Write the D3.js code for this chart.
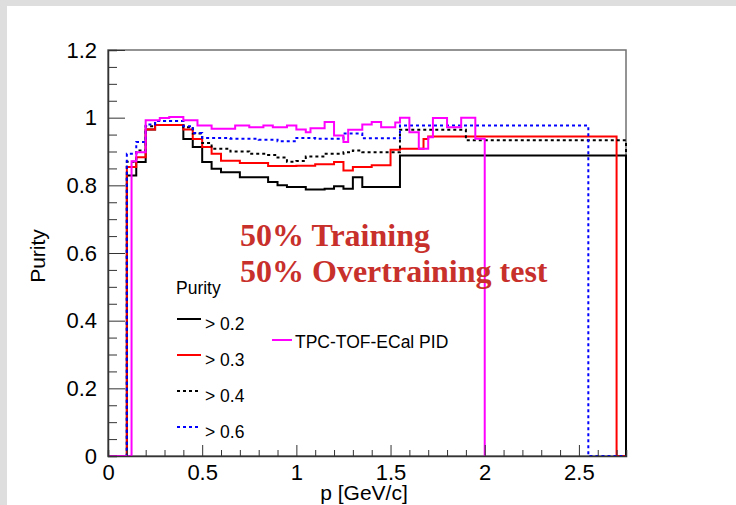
<!DOCTYPE html>
<html>
<head>
<meta charset="utf-8">
<script src="https://cdn.jsdelivr.net/npm/d3@7"></script>
<style>
  html, body { margin: 0; padding: 0; background: #fff; }
  svg { display: block; }
</style>
</head>
<body>
<svg id="chart" width="736" height="505"></svg>
<script>
// ---------------- DATA ----------------
const xTicks = [0, 0.5, 1, 1.5, 2, 2.5];
const yTicks = [0, 0.2, 0.4, 0.6, 0.8, 1, 1.2];
const xDomain = [0, 2.75];
const yDomain = [0, 1.2];

// Step histograms: bin edges (p, GeV/c) and purity value of each bin
const cut02Edges  = [0, 0.1, 0.15, 0.2, 0.25, 0.4, 0.45, 0.5, 0.55, 0.6, 0.7, 0.85, 0.9, 0.95, 1.05, 1.15, 1.2, 1.25, 1.3, 1.35, 1.55, 2.75];
const cut02Values = [0, 0.829, 0.869, 0.965, 0.978, 0.937, 0.913, 0.869, 0.849, 0.839, 0.824, 0.81, 0.80, 0.795, 0.788, 0.79, 0.797, 0.79, 0.824, 0.795, 0.888];

const cut03Edges  = [0, 0.1, 0.15, 0.2, 0.25, 0.4, 0.45, 0.5, 0.55, 0.6, 0.7, 0.85, 1.0, 1.1, 1.2, 1.25, 1.3, 1.4, 1.5, 1.55, 1.675, 1.7, 2.7, 2.75];
const cut03Values = [0, 0.854, 0.883, 0.965, 0.978, 0.965, 0.937, 0.913, 0.893, 0.873, 0.866, 0.857, 0.858, 0.862, 0.869, 0.844, 0.854, 0.859, 0.905, 0.908, 0.937, 0.944, 0];

const cut04Edges  = [0, 0.1, 0.15, 0.2, 0.25, 0.4, 0.45, 0.5, 0.55, 0.65, 0.75, 0.85, 0.9, 0.95, 1.0, 1.05, 1.15, 1.25, 1.3, 1.35, 1.55, 1.9, 2.75];
const cut04Values = [0, 0.87, 0.903, 0.975, 0.99, 0.972, 0.953, 0.925, 0.908, 0.9, 0.893, 0.89, 0.882, 0.87, 0.872, 0.885, 0.893, 0.898, 0.903, 0.898, 0.964, 0.933];

const cut06Edges  = [0, 0.1, 0.15, 0.2, 0.25, 0.4, 0.45, 0.5, 0.65, 0.8, 0.9, 1.0, 1.1, 1.25, 1.35, 1.55, 2.55, 2.75];
const cut06Values = [0, 0.893, 0.928, 0.98, 0.99, 0.975, 0.955, 0.94, 0.938, 0.935, 0.93, 0.94, 0.938, 0.953, 0.939, 0.977, 0];

const pidEdges  = [0, 0.125, 0.15, 0.2, 0.275, 0.325, 0.4, 0.475, 0.55, 0.675, 0.75, 0.825, 0.875, 0.95, 1.0, 1.05, 1.075, 1.15, 1.2, 1.25, 1.275, 1.35, 1.4, 1.45, 1.525, 1.55, 1.6, 1.65, 1.7, 1.725, 1.8, 1.875, 1.95, 2.0];
const pidValues = [0, 0.871, 0.898, 0.992, 0.999, 1.002, 0.992, 0.977, 0.967, 0.977, 0.972, 0.977, 0.972, 0.977, 0.965, 0.957, 0.969, 0.987, 0.947, 0.928, 0.964, 0.98, 0.987, 0.972, 0.986, 1.0, 0.957, 0.908, 0.942, 0.999, 0.972, 1.0, 0.938];

const series = [
  { name: "> 0.2", edges: cut02Edges, values: cut02Values, color: "#000000", dash: null },
  { name: "> 0.3", edges: cut03Edges, values: cut03Values, color: "#ff0000", dash: null },
  { name: "> 0.4", edges: cut04Edges, values: cut04Values, color: "#000000", dash: "3,3" },
  { name: "> 0.6", edges: cut06Edges, values: cut06Values, color: "#0000ff", dash: "3,3" },
  { name: "TPC-TOF-ECal PID", edges: pidEdges, values: pidValues, color: "#ff00ff", dash: null }
];

const legendTitle = "Purity";
const annotation = ["50% Training", "50% Overtraining test"];

// ---------------- LAYOUT ----------------
const W = 736, H = 505;
const frame = { left: 108, right: 626, top: 50, bottom: 456 };
const svg = d3.select("#chart");

svg.append("rect").attr("x", 0).attr("y", 0).attr("width", W).attr("height", H).attr("fill", "#dedede");
svg.append("rect").attr("x", 7).attr("y", 6).attr("width", W - 7).attr("height", H - 6).attr("fill", "#ffffff");

const x = d3.scaleLinear().domain(xDomain).range([frame.left, frame.right]);
const y = d3.scaleLinear().domain(yDomain).range([frame.bottom, frame.top]);

svg.append("rect")
  .attr("x", frame.left).attr("y", frame.top)
  .attr("width", frame.right - frame.left).attr("height", frame.bottom - frame.top)
  .attr("fill", "none").attr("stroke", "#707070").attr("stroke-width", 1.5);

const lineGen = d3.line().x(d => x(d[0])).y(d => y(d[1]));
function stepPoints(s) {
  const pts = [];
  for (let i = 0; i < s.values.length; i++) {
    pts.push([s.edges[i], s.values[i]]);
    pts.push([s.edges[i + 1], s.values[i]]);
  }
  pts.push([s.edges[s.edges.length - 1], 0]);
  return pts;
}
const gHist = svg.append("g");
series.forEach(s => {
  gHist.append("path")
    .attr("d", lineGen(stepPoints(s)))
    .attr("fill", "none")
    .attr("stroke", s.color)
    .attr("stroke-width", 2)
    .attr("stroke-dasharray", s.dash)
    .attr("stroke-linejoin", "miter")
    .attr("stroke-linecap", "butt");
});

const font = "'Liberation Sans', Arial, Helvetica, sans-serif";
const xAxis = d3.axisTop(x).tickValues(d3.range(0, 2.75 + 1e-9, 0.1)).tickSize(6).tickFormat("");
const gx = svg.append("g").attr("transform", `translate(0,${frame.bottom})`).call(xAxis);
gx.selectAll(".tick line").attr("stroke", "#333").attr("y2", d => (Math.abs(d * 2 - Math.round(d * 2)) < 1e-6) ? -11 : -6);
gx.select(".domain").attr("stroke", "#333").attr("stroke-width", 1.5);
const gxl = svg.append("g").attr("transform", `translate(0,${frame.bottom})`)
  .call(d3.axisBottom(x).tickValues(xTicks).tickSize(0).tickPadding(8).tickFormat(d3.format("~g")));
gxl.select(".domain").remove();
gxl.selectAll("text").attr("font-family", font).attr("font-size", 22).attr("fill", "#000");

const yAxis = d3.axisRight(y).tickValues(d3.range(0, 1.2 + 1e-9, 0.05)).tickSize(9).tickFormat("");
const gy = svg.append("g").attr("transform", `translate(${frame.left},0)`).call(yAxis);
gy.selectAll(".tick line").attr("stroke", "#333").attr("x2", d => (Math.abs(d * 5 - Math.round(d * 5)) < 1e-6) ? 17 : 9);
gy.select(".domain").attr("stroke", "#333").attr("stroke-width", 1.5);
const gyl = svg.append("g").attr("transform", `translate(${frame.left},0)`)
  .call(d3.axisLeft(y).tickValues(yTicks).tickSize(0).tickPadding(11).tickFormat(d3.format("~g")));
gyl.select(".domain").remove();
gyl.selectAll("text").attr("font-family", font).attr("font-size", 22).attr("fill", "#000");

svg.append("text").attr("x", 364).attr("y", 500).attr("text-anchor", "middle")
  .attr("font-family", font).attr("font-size", 21).text("p [GeV/c]");
svg.append("text").attr("transform", "translate(45,256) rotate(-90)").attr("text-anchor", "middle")
  .attr("font-family", font).attr("font-size", 21).text("Purity");

const leg = svg.append("g").attr("font-family", font).attr("font-size", 17.5);
leg.append("text").attr("x", 176).attr("y", 294).text(legendTitle);
series.slice(0, 4).forEach((s, i) => {
  const ly = 319 + i * 36;
  leg.append("line").attr("x1", 177).attr("x2", 201).attr("y1", ly).attr("y2", ly)
    .attr("stroke", s.color).attr("stroke-width", 2).attr("stroke-dasharray", s.dash);
  leg.append("text").attr("x", 205).attr("y", ly + 11).text(s.name);
});
const pid = series[4];
leg.append("line").attr("x1", 272).attr("x2", 292).attr("y1", 340).attr("y2", 340)
  .attr("stroke", pid.color).attr("stroke-width", 2);
leg.append("text").attr("x", 295).attr("y", 348).text(pid.name);

const ann = svg.append("g").attr("font-family", "'Liberation Serif', 'Times New Roman', serif")
  .attr("font-weight", "bold").attr("font-size", 32).attr("fill", "#c8302c");
annotation.forEach((t, i) => ann.append("text").attr("x", 240).attr("y", 246 + i * 36).text(t));
</script>
</body>
</html>
